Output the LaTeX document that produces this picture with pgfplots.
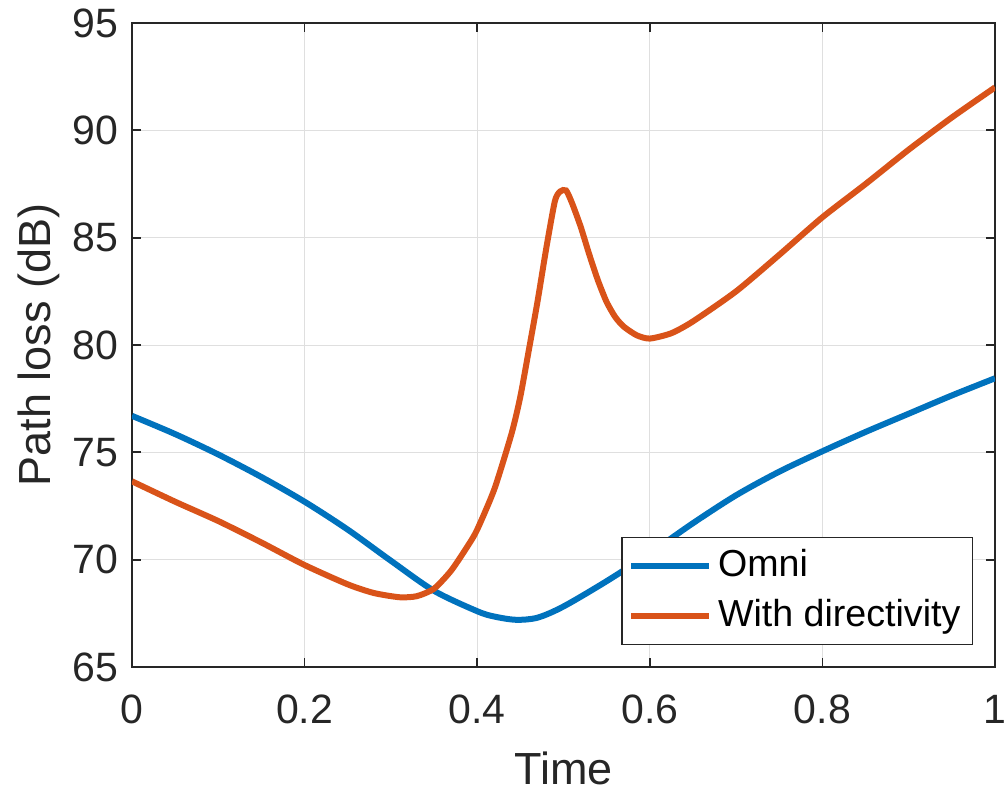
\documentclass[border=0pt]{standalone}
\usepackage{fontspec}
\setmainfont{Liberation Sans}
\usepackage{pgfplots}
\pgfplotsset{compat=1.18}
\definecolor{mblue}{rgb}{0,0.447,0.741}
\definecolor{morange}{rgb}{0.85,0.325,0.098}
\definecolor{axc}{RGB}{38,38,38}
\definecolor{gridc}{RGB}{223,223,223}
\begin{document}
\begin{tikzpicture}
\begin{axis}[
  name=ax,
  scale only axis,
  width=215.75pt, height=161pt,
  xmin=0, xmax=1, ymin=65, ymax=95,
  xtick={0,0.2,0.4,0.6,0.8,1},
  ytick={65,70,75,80,85,90,95},
  xticklabels={0,0.2,0.4,0.6,0.8,1},
  grid=major,
  grid style={color=gridc, line width=0.25pt},
  axis line style={color=axc, line width=0.45pt},
  tick align=inside,
  major tick length=2.25pt,
  tick style={color=axc, line width=0.45pt},
  xtick pos=both, ytick pos=both,
  /pgf/number format/assume math mode=true,
  ticklabel style={font=\fontsize{10.25}{12}\selectfont, color=axc},
  xticklabel style={yshift=-3.5pt},
  xlabel={Time},
  ylabel={Path loss (dB)},
  xlabel style={font=\fontsize{11.25}{13}\selectfont, color=axc, at={(axis description cs:0.5,-0.1832)}, anchor=base},
  ylabel style={font=\fontsize{11.25}{13}\selectfont, color=axc, at={(axis description cs:-0.095,0.5)}, anchor=base},
  legend style={at={(0.9745,0.034)}, anchor=south east, font=\fontsize{9.4}{11}\selectfont,
    draw=axc, line width=0.3pt, text=black, inner xsep=1.5pt, inner ysep=1.5pt,
    nodes={inner sep=1.5pt}, row sep=1.2pt},
  legend cell align=left,
  legend image code/.code={\draw[#1, line width=1.5pt] (0pt,0pt) -- (19.5pt,0pt);},
]
\addplot[mblue, line width=1.5pt, smooth] coordinates {
(0.00,76.70) (0.05,75.85) (0.10,74.90) (0.15,73.85) (0.20,72.70) (0.25,71.40)
(0.30,69.95) (0.35,68.55) (0.40,67.60) (0.42,67.35) (0.445,67.20) (0.47,67.30)
(0.50,67.82) (0.55,69.00) (0.60,70.30) (0.65,71.70) (0.70,73.00) (0.75,74.10)
(0.80,75.05) (0.85,75.95) (0.90,76.80) (0.95,77.65) (1.00,78.45)
};
\addlegendentry{Omni}
\addplot[morange, line width=1.5pt, smooth, tension=0.4] coordinates {
(0.00,73.65) (0.05,72.70) (0.10,71.80) (0.15,70.80) (0.20,69.75) (0.25,68.85)
(0.28,68.45) (0.31,68.25) (0.33,68.30) (0.35,68.65) (0.37,69.50) (0.39,70.70)
(0.40,71.40) (0.42,73.30) (0.44,75.90) (0.45,77.60) (0.46,79.80) (0.47,82.05)
(0.48,84.50) (0.49,86.70) (0.496,87.15) (0.503,87.20) (0.51,86.60) (0.52,85.50)
(0.53,84.20) (0.54,83.00) (0.55,82.00) (0.56,81.30) (0.57,80.85) (0.585,80.45)
(0.60,80.30) (0.625,80.55) (0.65,81.10) (0.70,82.50) (0.75,84.20) (0.80,85.95)
(0.85,87.50) (0.90,89.10) (0.95,90.60) (1.00,92.00)
};
\addlegendentry{With directivity}
\end{axis}
\path (ax.south west) ++(-33pt,-32.25pt) coordinate (bl);
\path (ax.north east) ++(2.75pt,5.75pt) coordinate (tr);
\pgfresetboundingbox
\path[use as bounding box] (bl) rectangle (tr);
\end{tikzpicture}
\end{document}
